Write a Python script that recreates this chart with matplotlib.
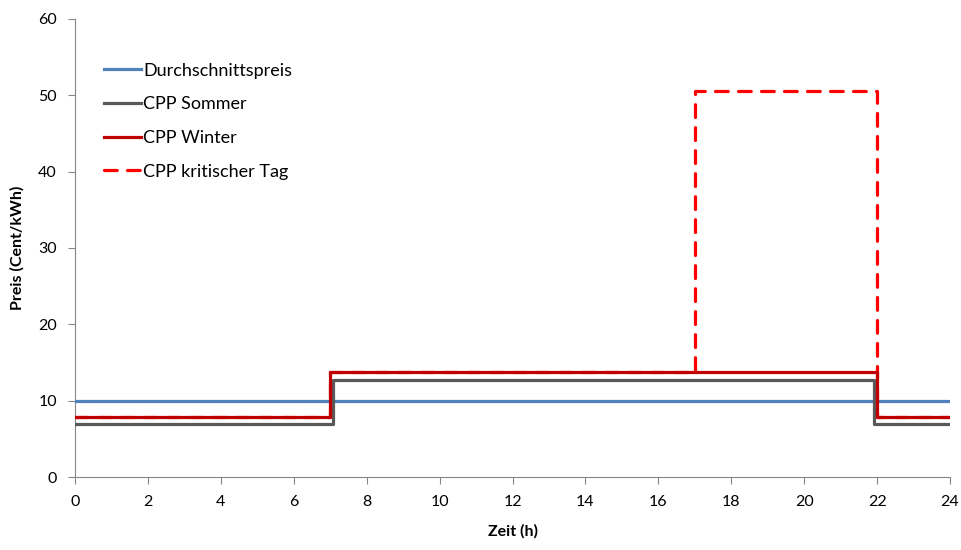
import matplotlib.pyplot as plt

plt.rcParams['font.family'] = ['Lato', 'DejaVu Sans']

# Daten (Stufenfunktionen: Stunde, Preis in Cent/kWh)
hours_avg = [0, 24]
price_avg = [10, 10]

hours_summer = [0, 7.08, 7.08, 21.92, 21.92, 24]
price_summer = [7.0, 7.0, 12.7, 12.7, 7.0, 7.0]

hours_winter = [0, 7, 7, 22, 22, 24]
price_winter = [7.9, 7.9, 13.8, 13.8, 7.9, 7.9]

hours_crit = [0, 7, 7, 17, 17, 22, 22, 24]
price_crit = [7.9, 7.9, 13.8, 13.8, 50.5, 50.5, 7.9, 7.9]

x_ticks = list(range(0, 25, 2))
y_ticks = list(range(0, 61, 10))

fig = plt.figure(figsize=(9.61, 5.5), dpi=100)
ax = fig.add_axes([0.078, 0.1327, 0.9106, 0.8328])

lw = 2.3
ax.plot(hours_avg, price_avg, color='#4F81BD', lw=lw, label='Durchschnittspreis', zorder=3)
ax.plot(hours_summer, price_summer, color='#595959', lw=lw, label='CPP Sommer', zorder=4)
ax.plot(hours_crit, price_crit, color='#FF0000', lw=lw, dashes=(4.0, 3.2),
        dash_capstyle='round', label='CPP kritischer Tag', zorder=4.5)
ax.plot(hours_winter, price_winter, color='#C00000', lw=lw, label='CPP Winter', zorder=5)

ax.set_xlim(0, 24)
ax.set_ylim(0, 60)
ax.set_xticks(x_ticks)
ax.set_yticks(y_ticks)
ax.tick_params(direction='out', length=5, color='#868686', labelsize=11.5, pad=8)
for s in ['top', 'right']:
    ax.spines[s].set_visible(False)
for s in ['left', 'bottom']:
    ax.spines[s].set_color('#868686')

ax.set_xlabel('Zeit (h)', fontsize=11.5, fontweight='bold', labelpad=11)
ax.set_ylabel('Preis (Cent/kWh)', fontsize=11.5, fontweight='bold', labelpad=10)

handles, labels = ax.get_legend_handles_labels()
order = ['Durchschnittspreis', 'CPP Sommer', 'CPP Winter', 'CPP kritischer Tag']
hmap = dict(zip(labels, handles))
ax.legend([hmap[k] for k in order], order, loc='upper left', frameon=False,
          fontsize=13, handlelength=2.05, handletextpad=0.1, labelspacing=0.98,
          bbox_to_anchor=(0.015, 0.94))

fig.savefig('out.png', dpi=100)
